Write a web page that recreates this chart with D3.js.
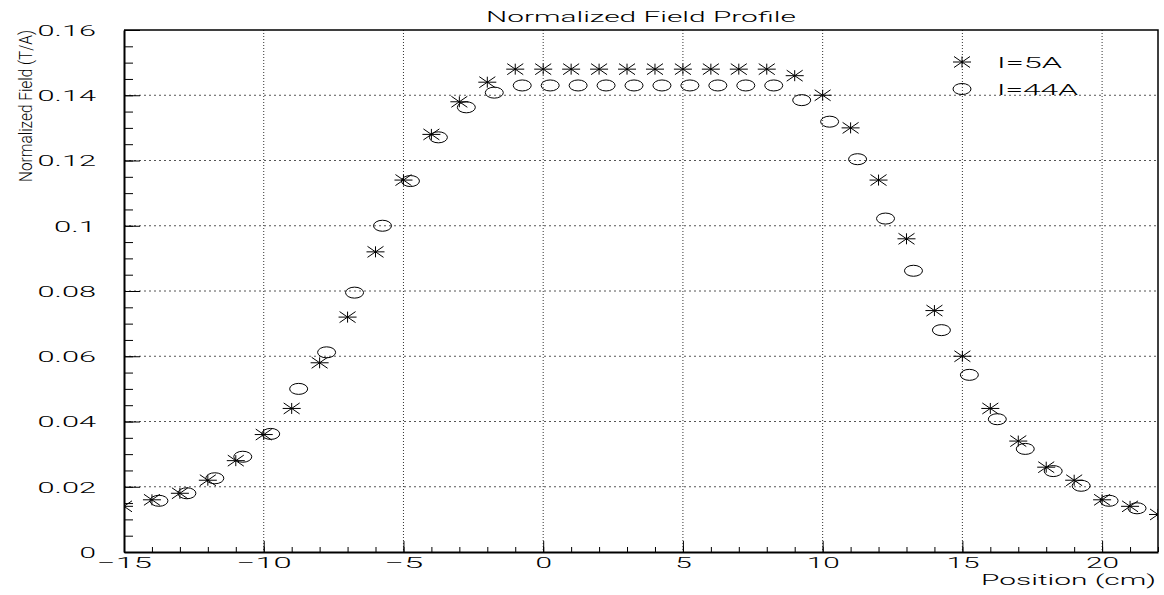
<!DOCTYPE html>
<meta charset="utf-8">
<title>Normalized Field Profile</title>
<style>
    body {
        margin: 0;
        background: #fff;
    }

    text {
        font-family: Roboto, "Liberation Sans", Arial, sans-serif;
        font-weight: 300;
        fill: #000;
    }

    .axis path,
    .axis line {
        stroke: #000;
    }

    .marker {
        fill: none;
        stroke: #000;
        stroke-width: 1px;
    }
</style>

<body>
    <div id="my_chart"></div>
    <script src="https://d3js.org/d3.v7.min.js"></script>
    <script>

        // tick values and labels
        var xTicks = [-15, -10, -5, 0, 5, 10, 15, 20];
        var xTickLabels = ["\u221215", "\u221210", "\u22125", "0", "5", "10", "15", "20"];
        var yTicks = [0, 0.02, 0.04, 0.06, 0.08, 0.1, 0.12, 0.14, 0.16];
        var yTickLabels = ["0", "0.02", "0.04", "0.06", "0.08", "0.1", "0.12", "0.14", "0.16"];

        // I = 5A series (stars)
        var pos5A = [-15, -14, -13, -12, -11, -10, -9, -8, -7, -6, -5, -4, -3, -2, -1,
            0, 1, 2, 3, 4, 5, 6, 7, 8, 9, 10, 11, 12, 13, 14, 15, 16, 17, 18, 19, 20, 21, 22];
        var field5A = [0.014, 0.016, 0.018, 0.022, 0.028, 0.036, 0.044, 0.058, 0.072, 0.092, 0.114, 0.128, 0.138, 0.144, 0.148,
            0.148, 0.148, 0.148, 0.148, 0.148, 0.148, 0.148, 0.148, 0.148, 0.146, 0.140, 0.130, 0.114, 0.096, 0.074, 0.060,
            0.044, 0.034, 0.026, 0.022, 0.016, 0.014, 0.0115];

        // I = 44A series (circles)
        var pos44A = [-13.75, -12.75, -11.75, -10.75, -9.75, -8.75, -7.75, -6.75, -5.75, -4.75, -3.75, -2.75, -1.75,
            -0.75, 0.25, 1.25, 2.25, 3.25, 4.25, 5.25, 6.25, 7.25, 8.25,
            9.25, 10.25, 11.25, 12.25, 13.25, 14.25, 15.25, 16.25, 17.25, 18.25, 19.25, 20.25, 21.25];
        var field44A = [0.0157, 0.018, 0.0226, 0.0292, 0.0362, 0.050, 0.0612, 0.0795, 0.100, 0.1137, 0.1271, 0.1363, 0.1408,
            0.143, 0.143, 0.143, 0.143, 0.143, 0.143, 0.143, 0.143, 0.143, 0.143,
            0.1385, 0.1319, 0.1204, 0.1022, 0.0862, 0.068, 0.0543, 0.0407, 0.0316, 0.0248, 0.0203, 0.0157, 0.0134];

        var legendLabels = ["I=5A", "I=44A"];

        var margin = { top: 30, right: 6, bottom: 43, left: 124 },
            width = 1164 - margin.left - margin.right,
            height = 595 - margin.top - margin.bottom;

        var x = d3.scaleLinear().domain([-15, 22]).range([0, width]);
        var y = d3.scaleLinear().domain([0, 0.16]).range([height, 0]);

        // rough width of the stretched glyphs
        function labelWidth(s) {
            var w = 0;
            for (var c of s) {
                if (c === ".") w += 9;
                else if (c === "\u2212") w += 22;
                else w += 16.5;
            }
            return w;
        }

        var svgRoot = d3.select("#my_chart")
            .append("svg")
            .attr("width", 1164)
            .attr("height", 595);

        var svg = svgRoot.append("g")
            .attr("transform", "translate(" + margin.left + "," + margin.top + ")");

        svgRoot.append("defs").append("clipPath")
            .attr("id", "plotClip")
            .append("rect")
            .attr("width", width)
            .attr("height", height);

        // grid lines
        svg.append("g")
            .selectAll("line")
            .data(xTicks.filter(function (d) { return d > -15; }))
            .enter().append("line")
            .attr("x1", function (d) { return x(d); })
            .attr("x2", function (d) { return x(d); })
            .attr("y1", 0)
            .attr("y2", height)
            .attr("stroke", "#333")
            .attr("stroke-dasharray", "1,2");

        svg.append("g")
            .selectAll("line")
            .data(yTicks.filter(function (d) { return d > 0 && d < 0.16; }))
            .enter().append("line")
            .attr("x1", 0)
            .attr("x2", width)
            .attr("y1", function (d) { return y(d); })
            .attr("y2", function (d) { return y(d); })
            .attr("stroke", "#555")
            .attr("stroke-dasharray", "2,3");

        // frame (top and right)
        svg.append("path")
            .attr("d", "M0,0H" + width + "V" + height)
            .attr("fill", "none")
            .attr("stroke", "#000")
            .attr("stroke-width", 1.5);

        // minor ticks
        svg.append("g")
            .attr("class", "axis")
            .attr("transform", "translate(0," + height + ")")
            .call(d3.axisBottom(x).ticks(37).tickSize(-5).tickSizeOuter(0).tickFormat(""))
            .select(".domain").remove();

        svg.append("g")
            .attr("class", "axis")
            .call(d3.axisLeft(y).ticks(32).tickSize(-9).tickSizeOuter(0).tickFormat(""))
            .select(".domain").remove();

        // X axis
        var gx = svg.append("g")
            .attr("class", "axis")
            .attr("transform", "translate(0," + height + ")")
            .call(d3.axisBottom(x).tickValues(xTicks).tickSize(-11).tickSizeOuter(0)
                .tickFormat(function (d, i) { return xTickLabels[i]; }));
        gx.select(".domain").attr("stroke-width", 2);
        gx.selectAll("text")
            .attr("y", 16)
            .attr("dy", null)
            .attr("font-size", "15px")
            .attr("textLength", function () { return labelWidth(this.textContent); })
            .attr("lengthAdjust", "spacingAndGlyphs");

        // Y axis
        var gy = svg.append("g")
            .attr("class", "axis")
            .call(d3.axisLeft(y).tickValues(yTicks).tickSize(-16).tickSizeOuter(0)
                .tickFormat(function (d, i) { return yTickLabels[i]; }));
        gy.select(".domain").attr("stroke-width", 2);
        gy.selectAll("text")
            .attr("x", -28)
            .attr("dy", "0.36em")
            .attr("font-size", "15px")
            .attr("textLength", function () { return labelWidth(this.textContent); })
            .attr("lengthAdjust", "spacingAndGlyphs");

        // markers
        var starPath = "M-9,0H9M0,-5.5V5.5M-8,-5.5L8,5.5M-8,5.5L8,-5.5";

        var plot = svg.append("g").attr("clip-path", "url(#plotClip)");

        plot.selectAll(".star")
            .data(pos5A)
            .enter().append("path")
            .attr("class", "marker star")
            .attr("d", starPath)
            .attr("transform", function (d, i) { return "translate(" + x(d) + "," + y(field5A[i]) + ")"; });

        plot.selectAll(".circ")
            .data(pos44A)
            .enter().append("ellipse")
            .attr("class", "marker circ")
            .attr("cx", function (d) { return x(d); })
            .attr("cy", function (d, i) { return y(field44A[i]); })
            .attr("rx", 9)
            .attr("ry", 5.5);

        // legend
        var legend = svgRoot.append("g").attr("transform", "translate(962,62)");
        legend.append("path")
            .attr("class", "marker")
            .attr("d", starPath);
        legend.append("ellipse")
            .attr("class", "marker")
            .attr("cy", 27)
            .attr("rx", 9)
            .attr("ry", 5.5);
        legend.selectAll(".ltext")
            .data(legendLabels)
            .enter().append("text")
            .attr("class", "ltext")
            .attr("x", 35)
            .attr("y", function (d, i) { return 6 + i * 27; })
            .attr("font-size", "15px")
            .attr("textLength", function (d) { return d.length === 4 ? 65 : 81; })
            .attr("lengthAdjust", "spacingAndGlyphs")
            .text(function (d) { return d; });

        // title
        svgRoot.append("text")
            .attr("x", 486)
            .attr("y", 22)
            .attr("font-size", "14px")
            .attr("textLength", 310)
            .attr("lengthAdjust", "spacingAndGlyphs")
            .text("Normalized Field Profile");

        // axis titles
        svgRoot.append("text")
            .attr("x", 1156)
            .attr("y", 585)
            .attr("font-size", "15px")
            .attr("text-anchor", "end")
            .attr("textLength", 175)
            .attr("lengthAdjust", "spacingAndGlyphs")
            .text("Position (cm)");

        svgRoot.append("text")
            .attr("transform", "translate(32,30) rotate(-90)")
            .attr("font-size", "19px")
            .attr("text-anchor", "end")
            .attr("textLength", 152)
            .attr("lengthAdjust", "spacingAndGlyphs")
            .text("Normalized Field (T/A)");

    </script>
</body>
